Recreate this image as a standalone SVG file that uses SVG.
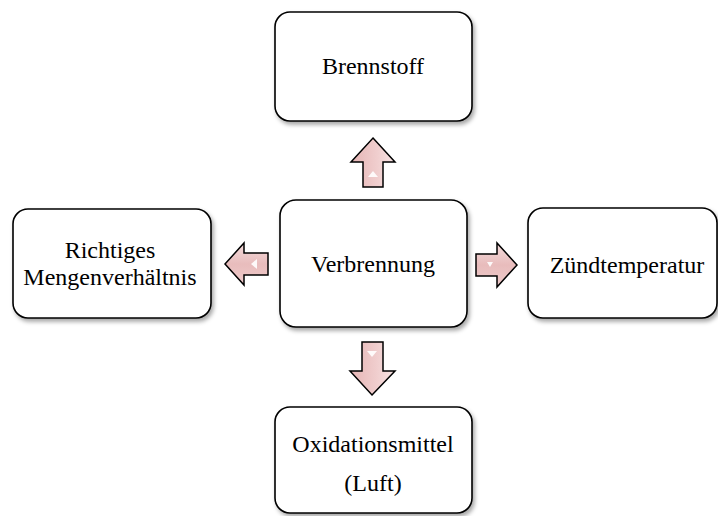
<svg xmlns="http://www.w3.org/2000/svg" width="718" height="516" viewBox="0 0 718 516">
  <defs>
    <filter id="sh" x="-10%" y="-10%" width="125%" height="130%">
      <feDropShadow dx="2" dy="3" stdDeviation="2" flood-color="#000" flood-opacity="0.35"/>
    </filter>
    <linearGradient id="gv" x1="0" y1="0" x2="1" y2="0">
      <stop offset="0" stop-color="#e5b4b4"/>
      <stop offset="0.6" stop-color="#f0cece"/>
      <stop offset="1" stop-color="#f7e4e4"/>
    </linearGradient>
    <linearGradient id="gh" x1="0" y1="0" x2="0" y2="1">
      <stop offset="0" stop-color="#f4dcdc"/>
      <stop offset="0.5" stop-color="#e8bcbc"/>
      <stop offset="1" stop-color="#eecaca"/>
    </linearGradient>
    <style>
      .box { fill: #ffffff; stroke: #000000; stroke-width: 1.6; filter: url(#sh); }
      .lbl { font-family: "Liberation Serif", "Times New Roman", serif; font-size: 24px; fill: #000000; text-anchor: middle; }
      .arr { stroke: #000000; stroke-width: 1.5; stroke-linejoin: miter; }
      .hl { fill: #ffffff; opacity: 0.9; }
    </style>
  </defs>

  <g id="connectors">
    <g id="arrow-up">
      <path class="arr" fill="url(#gv)" d="M373,138 L395,162 L383,162 L383,187 L363,187 L363,162 L351,162 Z"/>
      <path class="hl" d="M373,171 L378,177 L368,177 Z"/>
    </g>
    <g id="arrow-left">
      <path class="arr" fill="url(#gh)" d="M225,264 L244,243 L244,253 L268,253 L268,275 L244,275 L244,285 Z"/>
      <path class="hl" d="M251,264 L257,259 L257,269 Z"/>
    </g>
    <g id="arrow-right">
      <path class="arr" fill="url(#gh)" d="M517,265 L497,243 L497,254 L476,254 L476,276 L497,276 L497,287 Z"/>
      <path class="hl" d="M487,262 L493,262 L490,267 Z"/>
    </g>
    <g id="arrow-down">
      <path class="arr" fill="url(#gv)" d="M372,395 L395,371 L383,371 L383,342 L362,342 L362,371 L350,371 Z"/>
      <path class="hl" d="M367,351 L377,351 L372,357 Z"/>
    </g>
  </g>

  <g id="node-brennstoff">
    <rect class="box" x="275" y="12" width="197" height="109" rx="15" ry="15"/>
    <text class="lbl" x="373" y="74">Brennstoff</text>
  </g>

  <g id="node-verbrennung">
    <rect class="box" x="280" y="200" width="187" height="127" rx="16" ry="16"/>
    <text class="lbl" x="373" y="272">Verbrennung</text>
  </g>

  <g id="node-mengenverhaeltnis">
    <rect class="box" x="13" y="209" width="198" height="109" rx="15" ry="15"/>
    <text class="lbl" x="110" y="258">Richtiges</text>
    <text class="lbl" x="110" y="285">Mengenverhältnis</text>
  </g>

  <g id="node-zuendtemperatur">
    <rect class="box" x="528" y="208" width="189" height="110" rx="15" ry="15"/>
    <text class="lbl" x="627" y="273">Zündtemperatur</text>
  </g>

  <g id="node-oxidationsmittel">
    <rect class="box" x="275" y="407" width="197" height="106" rx="15" ry="15"/>
    <text class="lbl" x="373" y="452">Oxidationsmittel</text>
    <text class="lbl" x="373" y="491">(Luft)</text>
  </g>
</svg>
